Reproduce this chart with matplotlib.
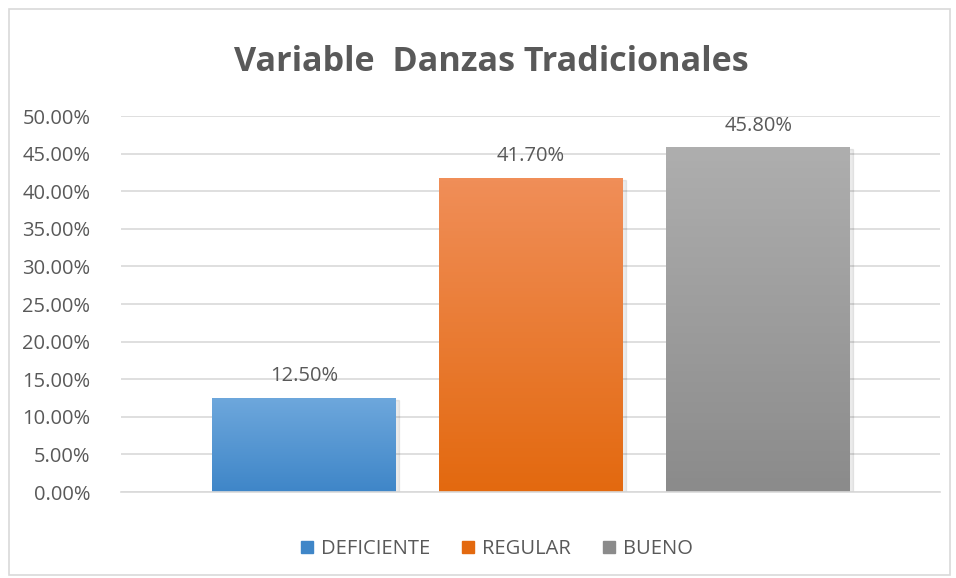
import numpy as np
import matplotlib.pyplot as plt
from matplotlib.colors import LinearSegmentedColormap
from matplotlib.patches import Rectangle

series = ['DEFICIENTE', 'REGULAR', 'BUENO']
values = [0.125, 0.417, 0.458]
labels = ['12.50%', '41.70%', '45.80%']
# colores arriba / abajo del degradado
top_colors = ['#6DA7DC', '#F08E58', '#AEAEAE']
bot_colors = ['#3F86C8', '#E3690F', '#8B8B8B']
yticks = np.arange(0, 0.501, 0.05)

plt.rcParams['font.family'] = ['Open Sans', 'DejaVu Sans']
txt = '#595959'

fig = plt.figure(figsize=(9.56, 5.78), dpi=100)
fig.patches.append(Rectangle((9/956, 3/578), 941/956, 566/578, transform=fig.transFigure,
                             fill=False, edgecolor='#D9D9D9', lw=1.2))
ax = fig.add_axes([121/956, 1-492/578, 819/956, 376/578])

w = 0.81
x = np.arange(len(series))
bars = ax.bar(x, values, width=w, color=bot_colors, zorder=2)
for i, b in enumerate(bars):
    cmap = LinearSegmentedColormap.from_list('g', [bot_colors[i], top_colors[i]])
    grad = np.linspace(0, 1, 100).reshape(-1, 1)
    # sombra suave
    ax.add_patch(Rectangle((b.get_x() + 0.012, 0), b.get_width(), b.get_height() - 0.002,
                           color='#000000', alpha=0.08, zorder=1.5))
    ax.imshow(grad, extent=(b.get_x(), b.get_x() + b.get_width(), 0, b.get_height()),
              origin='lower', cmap=cmap, aspect='auto', zorder=2.5)
    ax.text(b.get_x() + b.get_width()/2, values[i] + 0.016, labels[i], ha='center', va='bottom',
            fontsize=14.5, color=txt, zorder=3)

ax.set_xlim(-0.806, 2.80)
ax.set_ylim(0, 0.5)
ax.set_yticks(yticks)
ax.set_yticklabels(['%.2f%%' % (v*100) for v in yticks], fontsize=14.5, color=txt)
ax.set_xticks([])
ax.tick_params(axis='y', length=0, pad=22)
ax.grid(axis='y', color='#D9D9D9', lw=1.2, zorder=0)
ax.set_axisbelow(True)
for s in ['top', 'right', 'left']:
    ax.spines[s].set_visible(False)
ax.spines['bottom'].set_color('#D9D9D9')
ax.spines['bottom'].set_linewidth(1.2)

fig.text(491/956, 1-62/578, 'Variable  Danzas Tradicionales', ha='center', va='center',
         fontsize=24.6, fontweight='bold', color=txt)

handles = [Rectangle((0, 0), 1, 1, color=c) for c in bot_colors]
fig.legend(handles, series, loc='center', bbox_to_anchor=(497/956, 1-549/578), ncol=3,
           frameon=False, fontsize=14.5, labelcolor=txt, handlelength=0.6, handleheight=0.6,
           handletextpad=0.4, columnspacing=1.6)

fig.savefig('out.png', dpi=100)
